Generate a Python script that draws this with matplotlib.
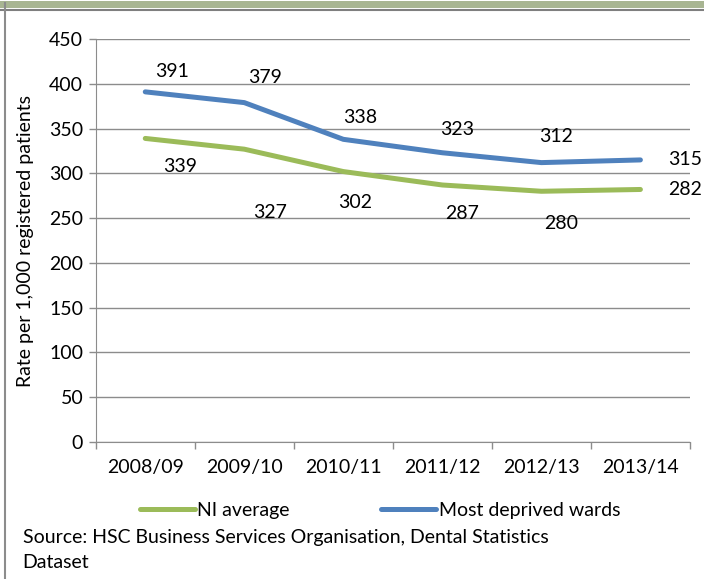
import matplotlib.pyplot as plt
from matplotlib.patches import Rectangle
from matplotlib.lines import Line2D

plt.rcParams['font.family'] = ['Lato', 'DejaVu Sans']

years = ['2008/09', '2009/10', '2010/11', '2011/12', '2012/13', '2013/14']
ni_average = [339, 327, 302, 287, 280, 282]
most_deprived = [391, 379, 338, 323, 312, 315]

blue = '#4F81BD'
green = '#9BBB59'
grid_col = '#8C8C8C'
fs = 14

# label offsets in pixels (dx, dy)
blue_offsets = [(27, 20), (21, 25), (17, 22), (15, 23), (15, 26), (45, 0)]
green_offsets = [(35, -28), (26, -63), (12, -31), (20, -29), (20, -32), (45, 0)]

fig = plt.figure(figsize=(7.04, 5.79), dpi=100)
ax = fig.add_axes([0.136, 0.2366, 0.844, 0.696])

x = list(range(len(years)))
ax.plot(x, ni_average, color=green, linewidth=3.6, solid_capstyle='round',
        solid_joinstyle='round', label='NI average', zorder=3)
ax.plot(x, most_deprived, color=blue, linewidth=3.6, solid_capstyle='round',
        solid_joinstyle='round', label='Most deprived wards', zorder=3)

for i, v in enumerate(most_deprived):
    dx, dy = blue_offsets[i]
    ax.annotate(str(v), (i, v), xytext=(dx * 0.72, dy * 0.72), textcoords='offset points',
                ha='center', va='center', fontsize=fs, color='black')
for i, v in enumerate(ni_average):
    dx, dy = green_offsets[i]
    ax.annotate(str(v), (i, v), xytext=(dx * 0.72, dy * 0.72), textcoords='offset points',
                ha='center', va='center', fontsize=fs, color='black')

ax.set_xlim(-0.5, len(years) - 0.5)
ax.set_ylim(0, 450)
ax.set_yticks(range(0, 451, 50))
ax.set_xticks(x)
ax.set_xticklabels(years, fontsize=fs)
ax.set_xticks([i - 0.5 for i in range(len(years) + 1)], minor=True)
ax.tick_params(axis='x', which='major', length=0, pad=12)
ax.tick_params(axis='x', which='minor', length=5, color=grid_col, width=1)
ax.tick_params(axis='y', length=5, color=grid_col, width=1, labelsize=fs, pad=4)
ax.yaxis.grid(True, color=grid_col, linewidth=1)
ax.set_axisbelow(True)
for s in ['top', 'right']:
    ax.spines[s].set_visible(False)
ax.spines['left'].set_color(grid_col)
ax.spines['bottom'].set_color(grid_col)
ax.set_ylabel('Rate per 1,000 registered patients', fontsize=fs, labelpad=11)

handles, labels = ax.get_legend_handles_labels()
fig.legend(handles, labels, loc='center', bbox_to_anchor=(0.54, 0.119), ncol=2,
           frameon=False, fontsize=fs, handlelength=2.8, handletextpad=0.15,
           columnspacing=4.7)

fig.text(0.032, 0.071, 'Source: HSC Business Services Organisation, Dental Statistics',
         fontsize=fs, va='center')
fig.text(0.032, 0.028, 'Dataset', fontsize=fs, va='center')

# frame decorations
fig.patches.append(Rectangle((0, 1 - 8 / 579), 1, 7 / 579, transform=fig.transFigure,
                             facecolor='#A8B592', edgecolor='none'))
fig.lines.append(Line2D([0, 1], [1 - 10 / 579] * 2, transform=fig.transFigure,
                        color='#7F7F7F', linewidth=1.5))
fig.lines.append(Line2D([5 / 704] * 2, [0, 1 - 3 / 579], transform=fig.transFigure,
                        color='#8C8C8C', linewidth=1.5))

fig.savefig('out.png', dpi=100)
